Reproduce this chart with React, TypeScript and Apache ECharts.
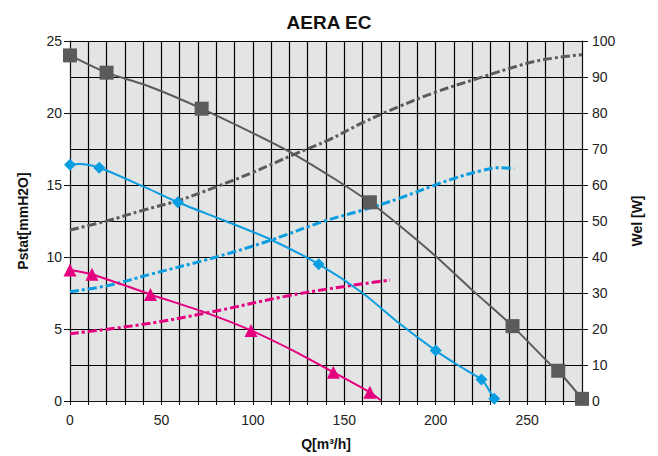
import React, { useEffect, useRef } from "react";
import * as echarts from "echarts";

// Pressure curves [Q m³/h, Pstat mmH2O, marker(1) or not(0)]
const grayPressure: [number, number, number][] = [
  [0, 24.0, 1], [20, 22.8, 1], [40, 22.0, 0], [56, 21.2, 0], [72, 20.3, 1],
  [100, 18.6, 0], [123, 17.1, 0], [145, 15.4, 0], [164, 13.8, 1], [180, 12.2, 0],
  [200, 10.05, 0], [220, 7.7, 0], [242, 5.2, 1], [263, 2.5, 0], [267, 2.1, 1], [280, 0.15, 1],
];
const bluePressure: [number, number, number][] = [
  [0, 16.4, 1], [5, 16.45, 0], [16, 16.2, 1], [40, 14.9, 0], [59, 13.8, 1],
  [85, 12.5, 0], [110, 11.2, 0], [136, 9.5, 1], [160, 7.5, 0], [180, 5.4, 0],
  [200, 3.5, 1], [212, 2.5, 0], [225, 1.5, 1], [228, 1.0, 0], [232, 0.15, 1],
];
const magentaPressure: [number, number, number][] = [
  [0, 9.1, 1], [12, 8.8, 1], [44, 7.4, 1], [75, 6.1, 0], [99, 4.9, 1],
  [122, 3.5, 0], [144, 2.0, 1], [164, 0.6, 1], [170, 0.05, 0],
];

// Power curves [Q m³/h, Wel W]
const grayPower: [number, number][] = [
  [0, 47.5], [20, 50], [40, 53], [60, 55.8], [80, 59.5], [100, 63.5], [123, 68.6],
  [141, 72.4], [160, 77.3], [180, 81.8], [200, 85.8], [223, 89.6], [250, 93.8], [265, 95.3], [280, 96.2],
];
const bluePower: [number, number][] = [
  [0, 30.4], [20, 32], [44, 35.2], [80, 40], [110, 44.7], [138, 49.8], [160, 53],
  [180, 56.3], [208, 61.5], [225, 64], [235, 64.8], [243, 64.6],
];
const magentaPower: [number, number][] = [
  [0, 18.7], [40, 21.3], [75, 24.5], [117, 29], [142, 31.2], [175, 33.6],
];

const xLabels = [0, 50, 100, 150, 200, 250];

const GRAY = "#5b5b5b";
const BLUE = "#0a9de0";
const MAGENTA = "#e4007f";

export default function App() {
  const ref = useRef<HTMLDivElement>(null);
  useEffect(() => {
    if (!ref.current) return;
    const chart = echarts.init(ref.current, null, { renderer: "svg" });
    const font = "'Liberation Sans', Arial, sans-serif";

    const pressureSeries = (
      name: string,
      data: [number, number, number][],
      color: string,
      symbol: string,
      size: number
    ) => ({
      name,
      type: "line",
      xAxisIndex: 0,
      yAxisIndex: 0,
      smooth: 0.25,
      data: data.map(([q, p, m]) =>
        m ? { value: [q, p], symbol, symbolSize: size } : { value: [q, p], symbol: "none" }
      ),
      lineStyle: { color, width: 2 },
      itemStyle: { color, borderWidth: 0 },
      showAllSymbol: true,
      z: 3,
    });

    const powerSeries = (name: string, data: [number, number][], color: string) => ({
      name,
      type: "line",
      xAxisIndex: 0,
      yAxisIndex: 1,
      smooth: 0.4,
      symbol: "none",
      data: data,
      lineStyle: { color, width: 3, type: [9, 3, 3, 3] },
      z: 2,
    });

    chart.setOption({
      animation: false,
      backgroundColor: "#ffffff",
      title: {
        text: "AERA EC",
        left: "center",
        top: 8,
        textStyle: { fontFamily: font, fontSize: 19, fontWeight: "bold", color: "#111" },
      },
      grid: { left: 70, right: 76, top: 41, bottom: 55, show: true, backgroundColor: "#e3e4e4", borderWidth: 0 },
      xAxis: {
        type: "value",
        min: 0,
        max: 280,
        interval: 10,
        name: "Q[m³/h]",
        nameLocation: "middle",
        nameGap: 36,
        nameTextStyle: { fontFamily: font, fontSize: 14, fontWeight: "bold", color: "#111" },
        axisLine: { show: true, lineStyle: { color: "#111", width: 1 } },
        axisTick: { show: true, length: 4, lineStyle: { color: "#111" } },
        axisLabel: {
          fontFamily: font,
          fontSize: 14,
          color: "#222",
          margin: 12,
          formatter: (v: number) => (xLabels.includes(v) ? String(v) : ""),
        },
        splitLine: { show: true, lineStyle: { color: "#000", width: 1.2 } },
      },
      yAxis: [
        {
          type: "value",
          min: 0,
          max: 25,
          interval: 5,
          position: "left",
          name: "Pstat[mmH2O]",
          nameLocation: "middle",
          nameGap: 40,
          nameRotate: 90,
          nameTextStyle: { fontFamily: font, fontSize: 14, fontWeight: "bold", color: "#111" },
          axisLine: { show: true, lineStyle: { color: "#111" } },
          axisTick: { show: true, length: 6, lineStyle: { color: "#111" } },
          axisLabel: { fontFamily: font, fontSize: 14, color: "#222", margin: 8 },
          splitLine: { show: false },
        },
        {
          type: "value",
          min: 0,
          max: 100,
          interval: 10,
          position: "right",
          name: "Wel [W]",
          nameLocation: "middle",
          nameGap: 48,
          nameRotate: 90,
          nameTextStyle: { fontFamily: font, fontSize: 14, fontWeight: "bold", color: "#111" },
          axisLine: { show: true, lineStyle: { color: "#111" } },
          axisTick: { show: true, length: 6, lineStyle: { color: "#111" } },
          axisLabel: { fontFamily: font, fontSize: 14, color: "#222", margin: 10 },
          splitLine: { show: true, lineStyle: { color: "#000", width: 1.2 } },
        },
      ],
      series: [
        powerSeries("Gray power", grayPower, GRAY),
        powerSeries("Blue power", bluePower, BLUE),
        powerSeries("Magenta power", magentaPower, MAGENTA),
        pressureSeries("Gray pressure", grayPressure, GRAY, "rect", 14),
        pressureSeries("Blue pressure", bluePressure, BLUE, "diamond", 12),
        pressureSeries("Magenta pressure", magentaPressure, MAGENTA, "triangle", 13),
      ],
    });
    return () => chart.dispose();
  }, []);
  return <div ref={ref} style={{ width: 658, height: 456, position: "absolute", left: 0, top: 0 }} />;
}
